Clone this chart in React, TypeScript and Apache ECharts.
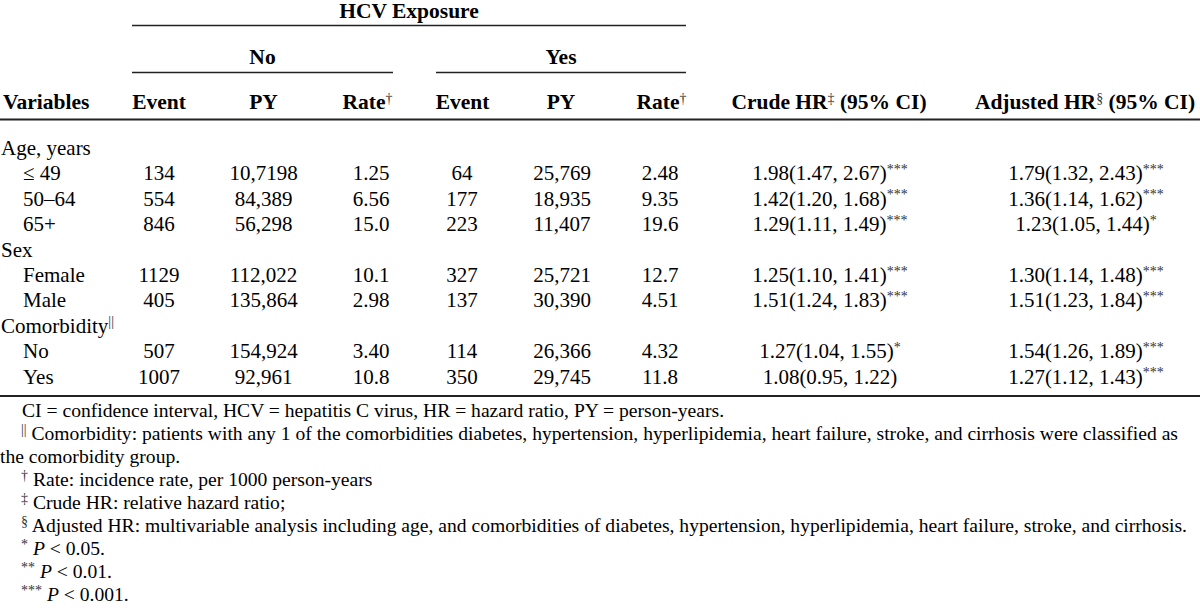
import React, { useEffect, useRef } from "react";
import * as echarts from "echarts";

// ---------- data ----------
const groupTitle = "HCV Exposure";
const exposureGroups = ["No", "Yes"];
const colHeaders = ["Event", "PY", "Rate", "Event", "PY", "Rate"];
const colHeaderSup = ["", "", "†", "", "", "†"];
const crudeHeader = ["Crude HR", "‡", " (95% CI)"];
const adjHeader = ["Adjusted HR", "§", " (95% CI)"];
const varHeader = "Variables";

const rowLabels = ["Age, years", "≤ 49", "50–64", "65+", "Sex", "Female", "Male", "Comorbidity", "No", "Yes"];
const groupRow = [true, false, false, false, true, false, false, true, false, false];
const labelSup = ["", "", "", "", "", "", "", "||", "", ""];
const eventNo = ["", "134", "554", "846", "", "1129", "405", "", "507", "1007"];
const pyNo = ["", "10,7198", "84,389", "56,298", "", "112,022", "135,864", "", "154,924", "92,961"];
const rateNo = ["", "1.25", "6.56", "15.0", "", "10.1", "2.98", "", "3.40", "10.8"];
const eventYes = ["", "64", "177", "223", "", "327", "137", "", "114", "350"];
const pyYes = ["", "25,769", "18,935", "11,407", "", "25,721", "30,390", "", "26,366", "29,745"];
const rateYes = ["", "2.48", "9.35", "19.6", "", "12.7", "4.51", "", "4.32", "11.8"];
const crudeHR = ["", "1.98(1.47, 2.67)", "1.42(1.20, 1.68)", "1.29(1.11, 1.49)", "", "1.25(1.10, 1.41)", "1.51(1.24, 1.83)", "", "1.27(1.04, 1.55)", "1.08(0.95, 1.22)"];
const crudeSig = ["", "***", "***", "***", "", "***", "***", "", "*", ""];
const adjHR = ["", "1.79(1.32, 2.43)", "1.36(1.14, 1.62)", "1.23(1.05, 1.44)", "", "1.30(1.14, 1.48)", "1.51(1.23, 1.84)", "", "1.54(1.26, 1.89)", "1.27(1.12, 1.43)"];
const adjSig = ["", "***", "***", "*", "", "***", "***", "", "***", "***"];

const footMarks = ["", "||", "", "†", "‡", "§", "*", "**", "***"];
const footTexts = [
  "CI = confidence interval, HCV = hepatitis C virus, HR = hazard ratio, PY = person-years.",
  "Comorbidity: patients with any 1 of the comorbidities diabetes, hypertension, hyperlipidemia, heart failure, stroke, and cirrhosis were classified as",
  "the comorbidity group.",
  "Rate: incidence rate, per 1000 person-years",
  "Crude HR: relative hazard ratio;",
  "Adjusted HR: multivariable analysis including age, and comorbidities of diabetes, hypertension, hyperlipidemia, heart failure, stroke, and cirrhosis.",
  "{it|P} < 0.05.",
  "{it|P} < 0.01.",
  "{it|P} < 0.001.",
];

// ---------- layout ----------
const FONT = '"Liberation Serif", "Times New Roman", Times, serif';
const INK = "#000";
const SUPINK = "#333";
const RULE = "#222";
const BODY_SIZE = 21;
const HEAD_SIZE = 21.5;
const FOOT_SIZE = 19.6;
const colX = [159, 263.5, 371, 462, 562, 660];
const headX = [159, 263.5, 367.5, 462.5, 561, 661.5];
const crudeX = 830;
const adjX = 1086;
const rowY0 = 148;
const rowStep = 25.4;
const footY0 = 410;
const footStep = 23;

const makeRich = (base: number) => ({
  sup: { fontSize: 14, fontFamily: FONT, fill: SUPINK, verticalAlign: "top", lineHeight: 13 },
  it: { fontStyle: "italic", fontSize: base, fontFamily: FONT, fill: INK, lineHeight: 22 },
});

function txt(x: number, y: number, text: string, opts: any = {}) {
  const size = opts.size ?? BODY_SIZE;
  return {
    type: "text",
    x,
    y,
    silent: true,
    style: {
      text,
      fontFamily: FONT,
      fontSize: size,
      fontWeight: opts.bold ? "bold" : "normal",
      fill: INK,
      align: opts.align ?? "center",
      verticalAlign: "middle",
      lineHeight: 22,
      rich: makeRich(size),
    },
  };
}

function rule(x1: number, x2: number, y: number, w: number) {
  return {
    type: "line",
    silent: true,
    shape: { x1, y1: y, x2, y2: y },
    style: { stroke: RULE, lineWidth: w },
  };
}

function buildGraphics() {
  const g: any[] = [];
  g.push(txt(409, 11, groupTitle, { bold: true, size: HEAD_SIZE }));
  g.push(rule(132, 686, 25.5, 1.5));
  g.push(txt(262.5, 57, exposureGroups[0], { bold: true, size: HEAD_SIZE }));
  g.push(txt(561, 57, exposureGroups[1], { bold: true, size: HEAD_SIZE }));
  g.push(rule(132, 393, 72.5, 1.5));
  g.push(rule(436, 686, 72.5, 1.5));
  g.push(txt(3, 102, varHeader, { bold: true, size: HEAD_SIZE, align: "left" }));
  colHeaders.forEach((h, i) => {
    const s = colHeaderSup[i] ? `${h}{sup|${colHeaderSup[i]}}` : h;
    g.push(txt(headX[i], 102, s, { bold: true, size: HEAD_SIZE }));
  });
  g.push(txt(crudeX - 1, 102, `${crudeHeader[0]}{sup|${crudeHeader[1]}}${crudeHeader[2]}`, { bold: true, size: HEAD_SIZE }));
  g.push(txt(adjX - 1, 102, `${adjHeader[0]}{sup|${adjHeader[1]}}${adjHeader[2]}`, { bold: true, size: HEAD_SIZE }));
  g.push(rule(0, 1200, 119.5, 2));

  const cols = [eventNo, pyNo, rateNo, eventYes, pyYes, rateYes];
  rowLabels.forEach((lab, r) => {
    const y = rowY0 + r * rowStep;
    const label = labelSup[r] ? `${lab}{sup|${labelSup[r]}}` : lab;
    g.push(txt(groupRow[r] ? 1 : 23, y, label, { align: "left" }));
    cols.forEach((col, c) => {
      if (col[r]) g.push(txt(colX[c], y, col[r]));
    });
    if (crudeHR[r]) {
      const s = crudeSig[r] ? `${crudeHR[r]}{sup|${crudeSig[r]}}` : crudeHR[r];
      g.push(txt(crudeX, y, s));
    }
    if (adjHR[r]) {
      const s = adjSig[r] ? `${adjHR[r]}{sup|${adjSig[r]}}` : adjHR[r];
      g.push(txt(adjX, y, s));
    }
  });
  g.push(rule(0, 1200, 396, 2));

  footTexts.forEach((t, i) => {
    const y = footY0 + i * footStep;
    const m = footMarks[i];
    let x = 22;
    if (i === 2) x = 0;
    let s = t;
    if (m) {
      s = `{sup|${m}} ${t}`;
      x = 21;
    }
    g.push(txt(x, y, s, { align: "left", size: FOOT_SIZE }));
  });
  return g;
}

export default function App() {
  const ref = useRef<HTMLDivElement>(null);
  useEffect(() => {
    document.body.style.margin = "0";
    const chart = echarts.init(ref.current!, undefined, { renderer: "svg", width: 1200, height: 608 });
    chart.setOption({
      animation: false,
      backgroundColor: "#ffffff",
      graphic: buildGraphics(),
    });
    return () => chart.dispose();
  }, []);
  return <div ref={ref} style={{ position: "absolute", left: 0, top: 0, width: 1200, height: 608, background: "#fff" }} />;
}
